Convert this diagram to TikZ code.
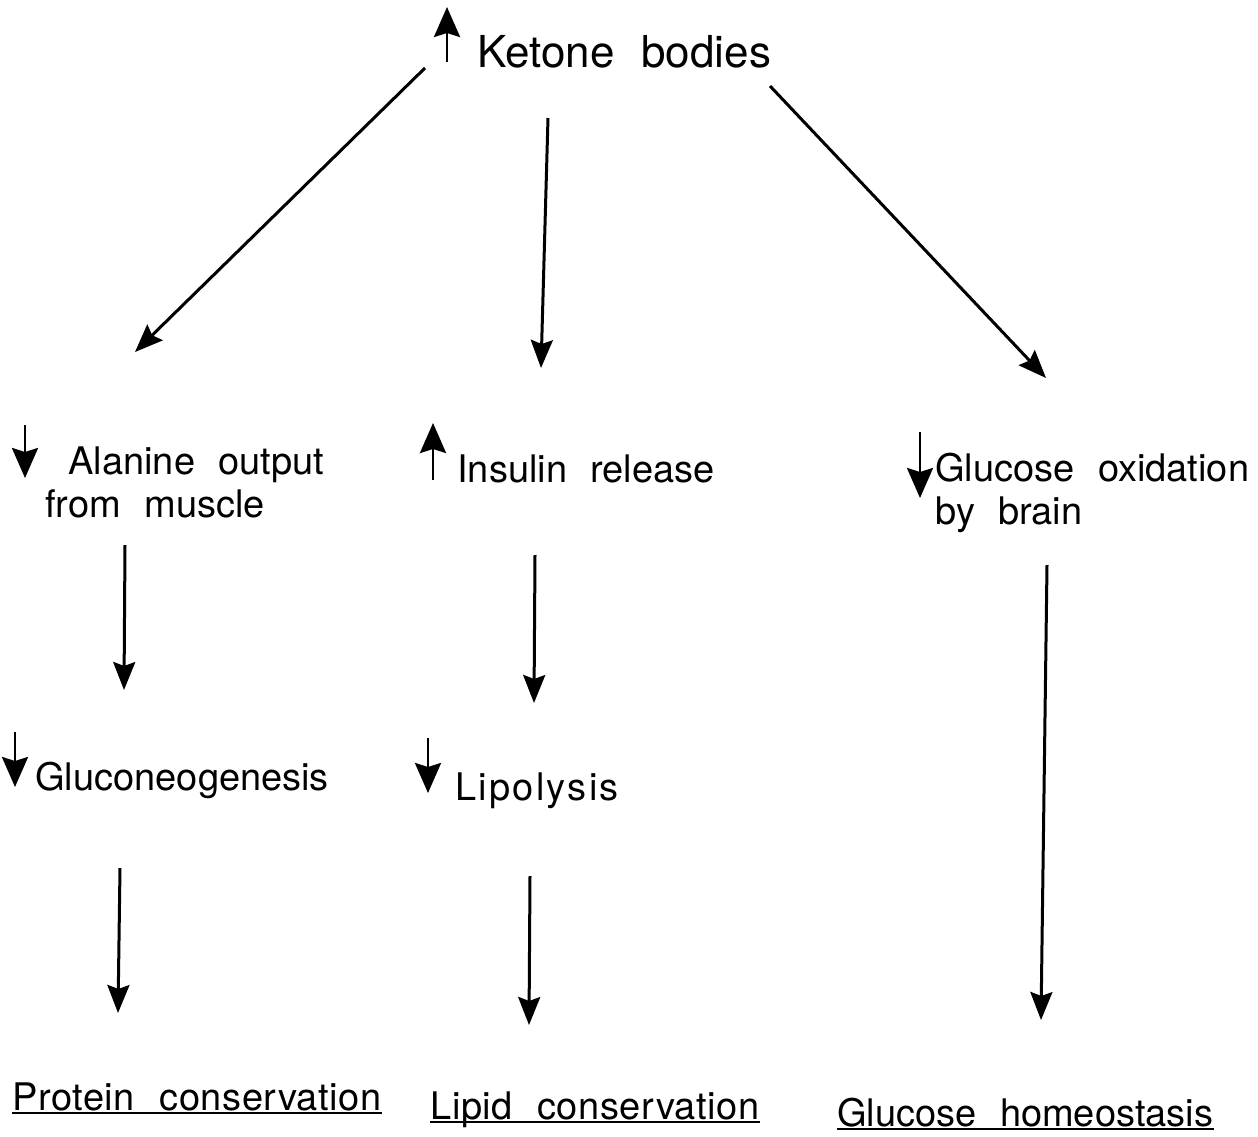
\documentclass[tikz,border=0pt]{standalone}
\usepackage{fontspec}
\setmainfont{TeX Gyre Heros}[WordSpace=2.2]
\usetikzlibrary{arrows.meta}

\begin{document}
\begin{tikzpicture}[x=0.5pt,y=-0.5pt,
  lbl/.style={anchor=base west,inner sep=0pt,font=\fontsize{19}{22}\selectfont},
  wide/.style={font=\fontsize{19}{22}\addfontfeature{LetterSpace=1.5}},
  flow/.style={line width=1.5pt,-{Stealth[length=14pt,width=11pt,inset=2pt]}},
  chg/.style={line width=1.4pt,-{Stealth[length=15pt,width=13pt,inset=2pt]}},
  uline/.style={line width=1.2pt}]
\useasboundingbox (0,0) rectangle (1258,1136);

% labels
\node[lbl,font=\fontsize{22}{26}\selectfont] (ketone) at (477,67) {Ketone bodies};
\node[lbl] (alanine) at (68,474) {Alanine output};
\node[lbl] (muscle) at (45,517) {from muscle};
\node[lbl] (insulin) at (457,482) {Insulin release};
\node[lbl] (glucox) at (935,481) {Glucose oxidation};
\node[lbl] (brain) at (935,524) {by brain};
\node[lbl] (gluconeo) at (35,790) {Gluconeogenesis};
\node[lbl,font=\fontsize{19}{22}\addfontfeature{LetterSpace=6}] (lipolysis) at (455,800) {Lipolysis};
\node[lbl,wide] (protein) at (12,1110) {Protein conservation};
\node[lbl,wide] (lipid) at (430,1119) {Lipid conservation};
\node[lbl] (homeo) at (837,1126) {Glucose homeostasis};

% up/down markers
\draw[chg] (447,62) -- (447,7);
\draw[chg] (25,425) -- (25,478);
\draw[chg] (433,480) -- (433,423);
\draw[chg] (920,432) -- (920,498);
\draw[chg] (15,732) -- (15,787);
\draw[chg] (428,738) -- (428,793);

% arrow ends
\coordinate (k1) at (425,68);   \coordinate (a0) at (135,352);
\coordinate (k2) at (548,118);  \coordinate (i0) at (541,368);
\coordinate (k3) at (770,86);   \coordinate (g0) at (1046,378);
\coordinate (a1) at (125,545);  \coordinate (n0) at (124,690);
\coordinate (i1) at (535,555);  \coordinate (l0) at (534,703);
\coordinate (g1) at (1047,565); \coordinate (h0) at (1041,1020);
\coordinate (n1) at (120,868);  \coordinate (p0) at (118,1013);
\coordinate (l1) at (530,876);  \coordinate (d0) at (529,1025);

\draw[flow] (k1) -- (a0);
\draw[flow] (k2) -- (i0);
\draw[flow] (k3) -- (g0);
\draw[flow] (a1) -- (n0);
\draw[flow] (i1) -- (l0);
\draw[flow] (g1) -- (h0);
\draw[flow] (n1) -- (p0);
\draw[flow] (l1) -- (d0);

% underlines
\foreach \t in {protein,lipid,homeo}
  \draw[uline] ([yshift=-1.5pt]\t.base west) -- ([yshift=-1.5pt]\t.base east);
\end{tikzpicture}
\end{document}
